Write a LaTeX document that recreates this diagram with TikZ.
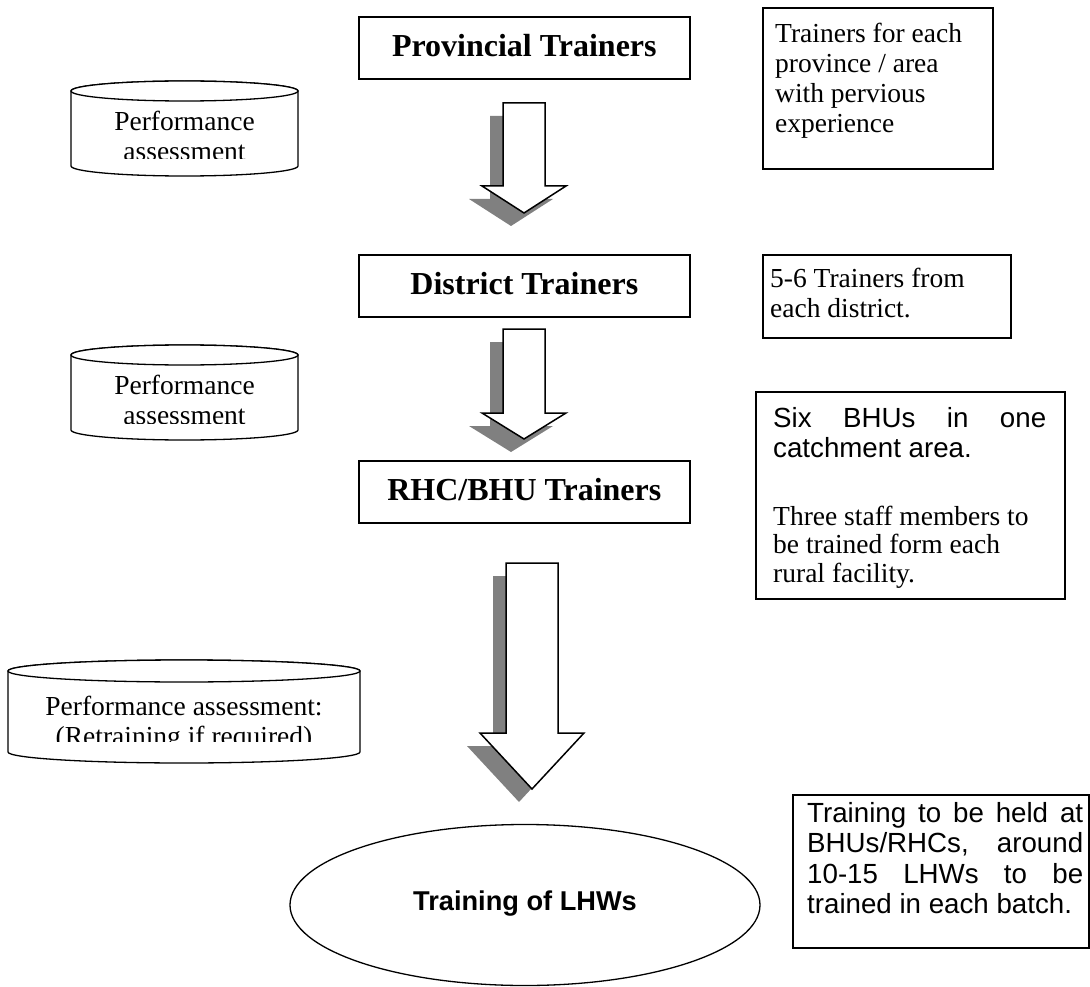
\documentclass[tikz,border=0pt]{standalone}
\usepackage{fontspec}
\setmainfont{Liberation Serif}
\newfontfamily\arialfont{Liberation Sans}
\usetikzlibrary{shapes.geometric}
\definecolor{shadowgray}{HTML}{808080}
\newcommand\tstr{\rule{0pt}{25pt}}
% block arrow: #1 centre x, #2 shaft half width, #3 top, #4 head y, #5 head half width, #6 tip y
\newcommand\blockarr[6]{%
  \fill[arrshadow] [shift={(-13,13)}] ({#1-#2},#3) -- ({#1+#2},#3) -- ({#1+#2},#4) -- ({#1+#5},#4) -- (#1,#6) -- ({#1-#5},#4) -- ({#1-#2},#4) -- cycle;
  \path[arrline] ({#1-#2},#3) -- ({#1+#2},#3) -- ({#1+#2},#4) -- ({#1+#5},#4) -- (#1,#6) -- ({#1-#5},#4) -- ({#1-#2},#4) -- cycle;
}
% cylinder: #1 left, #2 right, #3 top centre y, #4 bottom centre y, #5 ry
\newcommand\cylshape[5]{%
  \path[cylline] (#1,#3) -- (#1,#4) arc[start angle=180, end angle=0, x radius={(#2-#1)/2}, y radius=#5] -- (#2,#3) arc[start angle=0, end angle=-180, x radius={(#2-#1)/2}, y radius=#5] -- cycle;
  \draw[cylline] ({(#1+#2)/2},#3) ellipse [x radius={(#2-#1)/2}, y radius=#5];
}
\begin{document}
\begin{tikzpicture}[x=1pt,y=-1pt,
  bx/.style={draw, line width=1.6pt, inner sep=0pt, anchor=north west},
  ttl/.style={bx, minimum width=331pt, minimum height=62pt, font=\fontsize{32}{36}\selectfont\bfseries, text height=20pt, text depth=2pt},
  serif/.style={inner sep=0pt, anchor=north west, align=left, font=\fontsize{27.5}{30}\selectfont},
  sans/.style={inner sep=0pt, anchor=north west, align=left, font=\arialfont\fontsize{27.7}{30.5}\selectfont},
  arrline/.style={draw, fill=white, line width=1.5pt, line join=miter},
  arrshadow/.style={fill=shadowgray},
  cylline/.style={draw, line width=1.3pt, fill=white}
]
\useasboundingbox (0,0) rectangle (1090,987);

% title boxes
\node[ttl] (prov) at (358,16) {Provincial Trainers};
\node[ttl] (dist) at (358,254) {District Trainers};
\node[ttl] (rhc) at (358,460) {RHC/BHU Trainers};

% block arrows
\blockarr{524}{21}{103}{186}{42}{213}
\blockarr{524}{21}{329}{413}{42}{439}
\blockarr{532}{26}{563}{733}{52}{789}

% note boxes
\node[bx, minimum width=230pt, minimum height=161pt] (n1) at (762,7) {};
\node[serif] (t1) at (775,17) {\tstr Trainers for each\\province / area\\with pervious\\experience};

\node[bx, minimum width=248pt, minimum height=83pt] (n2) at (762,254) {};
\node[serif] (t2) at (770,262) {\tstr 5-6 Trainers from\\each district.};

\node[bx, minimum width=309pt, minimum height=207pt] (n3) at (755,391) {};
\node[sans] (t3a) at (773,402) {\tstr\makebox[273pt][s]{Six BHUs in one}\\catchment area.};
\node[serif, font=\fontsize{27.5}{28.5}\selectfont] (t3b) at (773,500) {\tstr Three staff members to\\be trained form each\\rural facility.};

\node[bx, minimum width=296pt, minimum height=153pt] (n4) at (792,794) {};
\node[sans] (t4) at (807,797) {\tstr\makebox[276pt][s]{Training to be held at}\\\makebox[276pt][s]{BHUs/RHCs, around}\\\makebox[276pt][s]{10-15 LHWs to be}\\trained in each batch.};

% cylinders
\cylshape{71}{298}{91}{166}{10}
\begin{scope}
  \clip (71,100) rectangle (298,159);
  \node[serif, anchor=north, align=center] (c1t) at (184.5,105) {\tstr Performance\\assessment};
\end{scope}

\cylshape{71}{298}{355}{430}{10}
\begin{scope}
  \clip (71,364) rectangle (298,423);
  \node[serif, anchor=north, align=center] (c2t) at (184.5,369) {\tstr Performance\\assessment};
\end{scope}

\cylshape{8}{360}{671}{752}{11}
\begin{scope}
  \clip (8,683) rectangle (360,741);
  \node[serif, anchor=north, align=center] (c3t) at (184,690) {\tstr Performance assessment:\\(Retraining if required)};
\end{scope}

% final ellipse
\node[draw, ellipse, line width=1.3pt, minimum width=470pt, minimum height=161pt, inner sep=0pt] (lhw) at (525,905) {};
\node[anchor=base, inner sep=0pt, font=\arialfont\fontsize{27.2}{30}\selectfont\bfseries] (lhwt) at (525,910) {Training of LHWs};
\end{tikzpicture}
\end{document}
